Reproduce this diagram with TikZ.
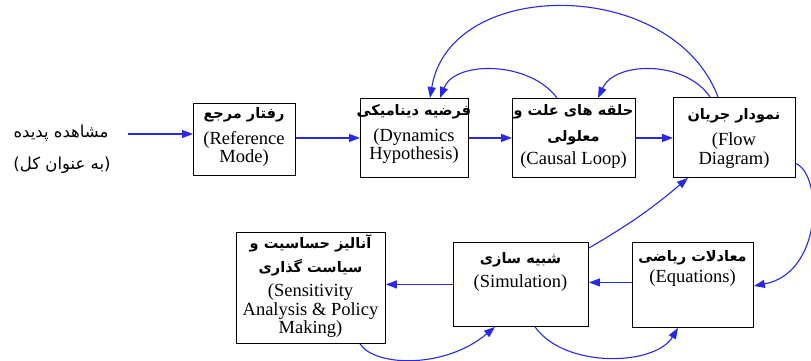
\documentclass[tikz,border=0pt]{standalone}
\usepackage{fontspec}
\setmainfont{Liberation Serif}
\newfontfamily\farsi[Script=Arabic]{DejaVu Sans}
\TeXXeTstate=1
\usetikzlibrary{arrows.meta,calc}
\definecolor{lk}{RGB}{40,40,235}
\begin{document}
\begin{tikzpicture}[x=1pt,y=-1pt,
  box/.style={draw=black,line width=0.9pt,anchor=north west,inner sep=0pt},
  en/.style={font=\fontsize{18.5}{19}\selectfont,inner sep=0pt},
  fa/.style={font=\farsi\bfseries\fontsize{14.5}{16}\selectfont,inner sep=0pt},
  far/.style={font=\farsi\fontsize{16.5}{18}\selectfont,inner sep=0pt},
  link/.style={draw=lk,line width=1.1pt,-{Triangle[length=11pt,width=8pt,fill=lk]}},
]
\useasboundingbox[fill=white] (0,0) rectangle (811,360);

% boxes
\node[box,minimum width=102pt,minimum height=72pt] (ref) at (193,103) {};
\node[box,minimum width=108pt,minimum height=79pt] (dyn) at (360,98) {};
\node[box,minimum width=123pt,minimum height=79pt] (cau) at (512,98) {};
\node[box,minimum width=122pt,minimum height=80pt] (flow) at (673,97) {};
\node[box,minimum width=149pt,minimum height=111pt] (sens) at (236,232) {};
\node[box,minimum width=135pt,minimum height=84pt] (sim) at (453,242) {};
\node[box,minimum width=121pt,minimum height=85pt] (eq) at (632,242) {};

% texts
\node[far] (obs1) at (61,133) {\beginR مشاهده پدیده\endR};
\node[far] (obs2) at (62,165) {\beginR (به عنوان کل)\endR};

\node[fa] (refF) at (244,115) {\beginR رفتار مرجع\endR};
\node[en] (refE1) at (244,140) {(Reference};
\node[en] (refE2) at (244,158) {Mode)};

\node[fa] (dynF) at (414,112) {\beginR فرضیه دینامیکی\endR};
\node[en] (dynE1) at (414,137) {(Dynamics};
\node[en] (dynE2) at (414,155) {Hypothesis)};

\node[fa] (cauF1) at (573.5,112) {\beginR حلقه های علت و\endR};
\node[fa] (cauF2) at (573.5,138) {\beginR معلولی\endR};
\node[en] (cauE) at (573.5,160) {(Causal Loop)};

\node[fa] (flowF) at (734,116) {\beginR نمودار جریان\endR};
\node[en] (flowE1) at (734,141) {(Flow};
\node[en] (flowE2) at (734,160) {Diagram)};

\node[fa] (eqF) at (692.5,258) {\beginR معادلات  ریاضی\endR};
\node[en] (eqE) at (692.5,278) {(Equations)};

\node[fa] (simF) at (520.5,260) {\beginR شبیه سازی\endR};
\node[en] (simE) at (520.5,283) {(Simulation)};

\node[fa] (sensF1) at (310.5,243) {\beginR آنالیز حساسیت و\endR};
\node[fa] (sensF2) at (310.5,268) {\beginR سیاست گذاری\endR};
\node[en] (sensE1) at (310.5,292) {(Sensitivity};
\node[en] (sensE2) at (310.5,311) {Analysis \& Policy};
\node[en] (sensE3) at (310.5,329) {Making)};

% straight connectors
\coordinate (src) at (128,134);
\draw[link] (src) -- (src -| ref.west);
\draw[link] (ref.east |- dyn.west) -- (dyn.west);
\draw[link] (dyn.east) -- (cau.west |- dyn.east);
\draw[link] (cau.east) -- (flow.west |- cau.east);
\coordinate (eqL) at ([yshift=2.5pt]eq.west);
\draw[link] (eqL) -- (eqL -| sim.east);
\draw[link] (sim.west) -- (sens.east |- sim.west);

% curved connectors
\draw[link] ([xshift=45pt]cau.north west) .. controls +(-27,-37) and +(15,-38) .. ([xshift=80pt]dyn.north west);
\draw[link] ([xshift=37pt]flow.north west) .. controls +(-25,-37) and +(17,-37) .. ([xshift=86pt]cau.north west);
\draw[link] ([xshift=45pt]flow.north west) .. controls +(-45,-120) and +(20,-122) .. ([xshift=70pt]dyn.north west);
\draw[link] ([yshift=-26pt]flow.east) .. controls +(27,12) and +(69,-13) .. ([yshift=-1pt]eq.east);
\draw[link] ([yshift=-6pt]sim.north east) to[bend right=5] ([xshift=15pt]flow.south west);
\draw[link] ([xshift=82pt]sim.south west) .. controls +(30,42) and +(-23,38) .. ([xshift=46pt]eq.south west);
\draw[link] ([xshift=124pt]sens.south west) .. controls +(15,23) and +(-50,42) .. ([xshift=42pt]sim.south west);
\end{tikzpicture}
\end{document}
